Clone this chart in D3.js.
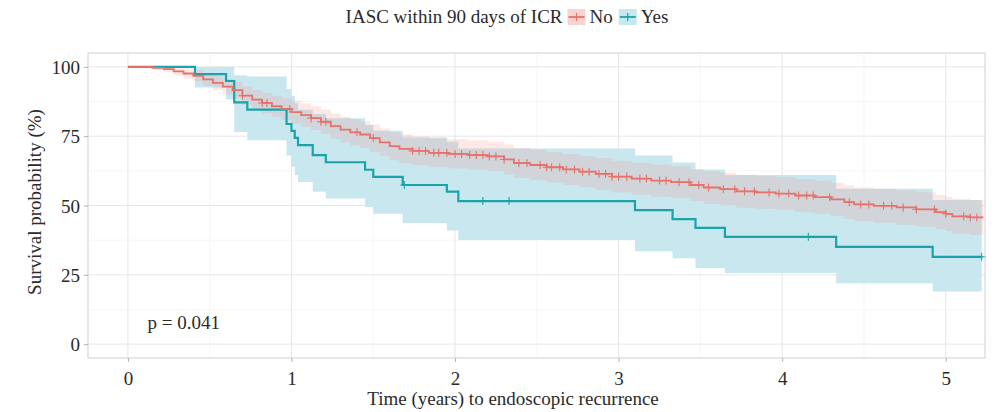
<!DOCTYPE html>
<html>
<head>
<meta charset="utf-8">
<script src="https://cdn.jsdelivr.net/npm/d3@7"></script>
<style>
  html, body { margin: 0; padding: 0; background: #ffffff; }
  svg { display: block; }
  text { font-family: "Liberation Serif", "DejaVu Serif", serif; fill: #2b2b2b; }
</style>
</head>
<body>
<svg id="chart" width="995" height="412"></svg>
<script>
// ---------------- data ----------------
const groups = ["No", "Yes"];
const legendTitle = "IASC within 90 days of ICR";
const xTicks = [0, 1, 2, 3, 4, 5];
const yTicks = [0, 25, 50, 75, 100];

// Group "No" : step times (years), survival (%), 95% CI
const noTime  = [0, 0.15, 0.22, 0.28, 0.34, 0.40, 0.46, 0.52, 0.58, 0.64, 0.70, 0.76, 0.82, 0.88, 0.94, 1.00, 1.06, 1.12, 1.18, 1.24, 1.30, 1.36, 1.42, 1.48, 1.54, 1.60, 1.66, 1.74, 1.84, 1.96, 2.08, 2.20, 2.30, 2.36, 2.46, 2.56, 2.66, 2.76, 2.86, 2.96, 3.08, 3.20, 3.32, 3.44, 3.52, 3.62, 3.72, 3.84, 3.96, 4.08, 4.20, 4.30, 4.38, 4.44, 4.56, 4.70, 4.82, 4.94, 5.00, 5.04, 5.15];
const noSurv  = [100, 99.6, 99.2, 98.4, 97.6, 96.8, 95.5, 94.2, 92.9, 91.6, 89.6, 88.2, 87.0, 85.8, 84.8, 83.7, 82.6, 81.5, 80.2, 78.6, 77.4, 76.4, 75.6, 74.3, 72.8, 71.4, 70.4, 69.7, 69.0, 68.6, 68.2, 67.7, 66.6, 65.3, 64.6, 63.8, 63.0, 62.2, 61.4, 60.4, 59.7, 59.0, 58.4, 57.4, 56.5, 55.9, 55.1, 54.7, 54.3, 53.6, 53.0, 52.2, 51.2, 50.4, 49.9, 49.3, 48.6, 47.6, 47.0, 46.1, 45.7];
const noLower = [100, 98.8, 98.1, 96.9, 95.8, 94.7, 93.1, 91.6, 90.1, 88.6, 86.3, 84.7, 83.3, 82.0, 80.8, 79.6, 78.4, 77.2, 75.8, 74.1, 72.8, 71.7, 70.8, 69.4, 67.8, 66.3, 65.2, 64.5, 63.8, 63.3, 62.9, 62.4, 61.2, 59.9, 59.1, 58.3, 57.4, 56.6, 55.7, 54.7, 54.0, 53.2, 52.6, 51.6, 50.6, 50.0, 49.2, 48.8, 48.3, 47.6, 47.0, 46.2, 45.1, 44.3, 43.8, 43.1, 42.4, 41.4, 40.8, 39.8, 39.4];
const noUpper = [100, 100, 100, 99.9, 99.4, 98.9, 97.9, 96.8, 95.7, 94.6, 92.9, 91.7, 90.7, 89.6, 88.8, 87.8, 86.8, 85.8, 84.6, 83.1, 82.0, 81.1, 80.4, 79.2, 77.8, 76.5, 75.6, 74.9, 74.2, 73.9, 73.5, 73.0, 72.0, 70.7, 70.1, 69.3, 68.6, 67.8, 67.1, 66.1, 65.4, 64.8, 64.2, 63.2, 62.4, 61.8, 61.0, 60.6, 60.3, 59.6, 59.0, 58.2, 57.3, 56.5, 56.0, 55.5, 54.8, 53.8, 53.2, 52.4, 52.0];
const noEnd = 5.23;
const noCensor = [0.70, 0.82, 0.85, 0.99, 1.12, 1.18, 1.21, 1.40, 1.50, 1.74, 1.78, 1.82, 1.87, 1.90, 1.95, 2.00, 2.04, 2.09, 2.13, 2.17, 2.21, 2.25, 2.30, 2.39, 2.44, 2.52, 2.56, 2.59, 2.64, 2.68, 2.73, 2.78, 2.82, 2.88, 2.92, 2.96, 3.00, 3.05, 3.13, 3.17, 3.25, 3.29, 3.37, 3.43, 3.49, 3.55, 3.64, 3.71, 3.77, 3.83, 3.92, 3.98, 4.04, 4.10, 4.15, 4.19, 4.29, 4.41, 4.48, 4.53, 4.62, 4.67, 4.74, 4.82, 4.93, 5.00, 5.11, 5.15, 5.19];

// Group "Yes"
const yesTime  = [0, 0.41, 0.60, 0.65, 0.73, 0.97, 1.00, 1.02, 1.04, 1.13, 1.21, 1.45, 1.50, 1.68, 1.95, 2.02, 3.10, 3.33, 3.47, 3.65, 4.33, 4.92];
const yesSurv  = [100, 97.4, 94.9, 87.2, 84.6, 79.4, 76.9, 74.4, 71.8, 68.2, 65.6, 62.9, 60.3, 57.4, 55.0, 51.6, 48.3, 45.1, 41.9, 38.7, 35.1, 31.5];
const yesLower = [100, 92.6, 88.2, 76.5, 73.5, 68.0, 64.0, 61.0, 58.5, 55.0, 52.5, 49.5, 47.0, 43.7, 41.0, 37.6, 33.5, 31.0, 27.5, 25.7, 22.0, 19.0];
const yesUpper = [100, 100, 100, 97.0, 96.5, 92.0, 89.5, 87.0, 84.5, 83.0, 81.5, 79.0, 77.0, 74.5, 73.0, 70.6, 68.0, 65.5, 63.0, 61.0, 56.0, 52.0];
const yesEnd = 5.22;
const yesCensor = [1.69, 2.17, 2.33, 4.16, 5.22];

const pText = "p = 0.041";
const xTitle = "Time (years) to endoscopic recurrence";
const yTitle = "Survival probability (%)";

// ---------------- layout ----------------
const colors = { No: "#e8716a", Yes: "#1aa3a8" };
const svg = d3.select("#chart");
const P = { left: 88, right: 985, top: 53, bottom: 358 };
const FS = 19;

const x = d3.scaleLinear().domain([-0.244, 5.24]).range([P.left, P.right]);
const y = d3.scaleLinear().domain([-5, 105]).range([P.bottom, P.top]);

// panel background
svg.append("rect").attr("x", P.left).attr("y", P.top)
  .attr("width", P.right - P.left).attr("height", P.bottom - P.top)
  .attr("fill", "#ffffff");

// grid lines (minor then major)
const gx = svg.append("g");
const xMinor = [0.5, 1.5, 2.5, 3.5, 4.5];
const yMinor = [12.5, 37.5, 62.5, 87.5];
gx.selectAll(".xm").data(xMinor).join("line")
  .attr("x1", d => x(d)).attr("x2", d => x(d)).attr("y1", P.top).attr("y2", P.bottom)
  .attr("stroke", "#f1f1f1").attr("stroke-width", 0.6);
gx.selectAll(".ym").data(yMinor).join("line")
  .attr("y1", d => y(d)).attr("y2", d => y(d)).attr("x1", P.left).attr("x2", P.right)
  .attr("stroke", "#f1f1f1").attr("stroke-width", 0.6);
gx.selectAll(".xM").data(xTicks).join("line")
  .attr("x1", d => x(d)).attr("x2", d => x(d)).attr("y1", P.top).attr("y2", P.bottom)
  .attr("stroke", "#e6e6e6").attr("stroke-width", 1);
gx.selectAll(".yM").data(yTicks).join("line")
  .attr("y1", d => y(d)).attr("y2", d => y(d)).attr("x1", P.left).attr("x2", P.right)
  .attr("stroke", "#e6e6e6").attr("stroke-width", 1);

// build series
function series(time, surv, lo, up, end) {
  const pts = time.map((t, i) => ({ t, s: surv[i], lo: lo[i], up: up[i] }));
  const last = pts[pts.length - 1];
  pts.push({ t: end, s: last.s, lo: last.lo, up: last.up });
  return pts;
}
const data = {
  No: series(noTime, noSurv, noLower, noUpper, noEnd),
  Yes: series(yesTime, yesSurv, yesLower, yesUpper, yesEnd)
};
const censors = { No: noCensor, Yes: yesCensor };

const area = d3.area().curve(d3.curveStepAfter)
  .x(d => x(d.t)).y0(d => y(d.lo)).y1(d => y(d.up));
const line = d3.line().curve(d3.curveStepAfter)
  .x(d => x(d.t)).y(d => y(d.s));

const plot = svg.append("g");
// bands: Yes first, then No on top
plot.append("path").attr("d", area(data.Yes)).attr("fill", "#c6e6ee").attr("opacity", 0.95);
plot.append("path").attr("d", area(data.No)).attr("fill", "#F8766D").attr("opacity", 0.17);

function survAt(pts, t) {
  let s = pts[0].s;
  for (const p of pts) { if (p.t <= t) s = p.s; else break; }
  return s;
}

["Yes", "No"].forEach(g => {
  plot.append("path").attr("d", line(data[g])).attr("fill", "none")
    .attr("stroke", colors[g]).attr("stroke-width", g === "Yes" ? 2.2 : 1.8)
    .attr("stroke-linejoin", "miter");
  const cg = plot.append("g");
  censors[g].forEach(t => {
    const cx = x(t), cy = y(survAt(data[g], t));
    cg.append("line").attr("x1", cx).attr("x2", cx).attr("y1", cy - 4).attr("y2", cy + 4)
      .attr("stroke", colors[g]).attr("stroke-width", 1.1);
    cg.append("line").attr("x1", cx - 4).attr("x2", cx + 4).attr("y1", cy).attr("y2", cy)
      .attr("stroke", colors[g]).attr("stroke-width", 1.1);
  });
});

// panel border
svg.append("rect").attr("x", P.left).attr("y", P.top)
  .attr("width", P.right - P.left).attr("height", P.bottom - P.top)
  .attr("fill", "none").attr("stroke", "#cfcfcf").attr("stroke-width", 1);

// axes
const xAxis = d3.axisBottom(x).tickValues(xTicks).tickSize(4).tickPadding(7).tickFormat(d3.format("d"));
const yAxis = d3.axisLeft(y).tickValues(yTicks).tickSize(4).tickPadding(4).tickFormat(d3.format("d"));
const gxA = svg.append("g").attr("transform", `translate(0,${P.bottom})`).call(xAxis);
const gyA = svg.append("g").attr("transform", `translate(${P.left},0)`).call(yAxis);
[gxA, gyA].forEach(g => {
  g.select(".domain").remove();
  g.selectAll(".tick line").attr("stroke", "#b3b3b3");
  g.selectAll(".tick text").attr("font-size", FS).attr("fill", "#333");
});
gxA.selectAll(".tick text").attr("dy", "0.85em");
gyA.selectAll(".tick text").attr("dy", "0.35em");

// axis titles
svg.append("text").attr("x", 513).attr("y", 405)
  .attr("text-anchor", "middle").attr("font-size", FS).text(xTitle);
svg.append("text").attr("transform", `translate(41,${202}) rotate(-90)`)
  .attr("text-anchor", "middle").attr("font-size", FS).text(yTitle);

// p value
svg.append("text").attr("x", x(0.12)).attr("y", y(5.5)).attr("font-size", FS).text(pText);

// legend (top, horizontal)
const lg = svg.append("g");
const tt = lg.append("text").attr("x", 0).attr("y", 23).attr("font-size", FS).text(legendTitle);
let cur = tt.node().getComputedTextLength() + 5;
const keyFill = { No: "#f9d3d0", Yes: "#c6e9ef" };
groups.forEach(g => {
  lg.append("rect").attr("x", cur).attr("y", 9).attr("width", 18).attr("height", 16).attr("fill", keyFill[g]);
  lg.append("line").attr("x1", cur + 1).attr("x2", cur + 17).attr("y1", 17).attr("y2", 17)
    .attr("stroke", colors[g]).attr("stroke-width", 1.8);
  lg.append("line").attr("x1", cur + 9).attr("x2", cur + 9).attr("y1", 13).attr("y2", 21)
    .attr("stroke", colors[g]).attr("stroke-width", 1.2);
  cur += 22;
  const tx = lg.append("text").attr("x", cur).attr("y", 23).attr("font-size", FS).text(g);
  cur += tx.node().getComputedTextLength() + 6;
});
lg.attr("transform", `translate(${510 - cur / 2},0)`);
</script>
</body>
</html>
